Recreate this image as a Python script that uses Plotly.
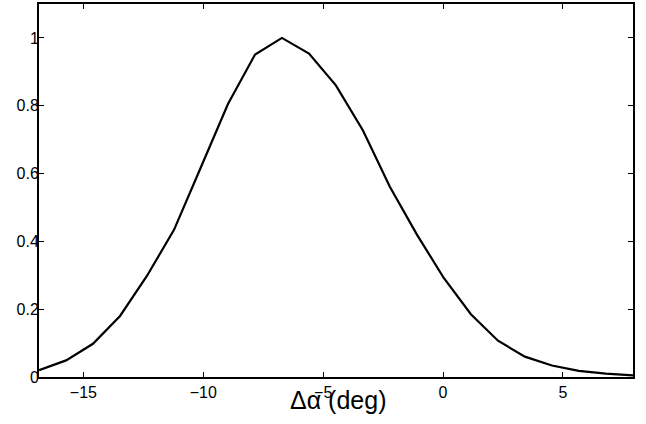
import plotly.graph_objects as go

x_deg = [-16.85, -15.72, -14.60, -13.47, -12.35, -11.22, -10.09, -8.97, -7.84, -6.72,
         -5.59, -4.47, -3.34, -2.22, -1.09, 0.03, 1.16, 2.29, 3.41, 4.54, 5.66, 6.79, 7.92]
y_val = [0.020, 0.049, 0.098, 0.180, 0.298, 0.434, 0.620, 0.805, 0.951, 1.000,
         0.954, 0.860, 0.727, 0.561, 0.420, 0.292, 0.185, 0.107, 0.060, 0.034, 0.018, 0.010, 0.005]

x_ticks = [-15, -10, -5, 0, 5]
x_tick_labels = ["\u221215", "\u221210", "\u22125", "0", "5"]
y_ticks = [0, 0.2, 0.4, 0.6, 0.8, 1]
y_tick_labels = ["0", "0.2", "0.4", "0.6", "0.8", "1"]
x_title = "\u0394\u03b1 (deg)"
x_range = [-16.85, 7.92]

fig = go.Figure()
fig.add_trace(go.Scatter(x=x_deg, y=y_val, mode="lines",
                         line=dict(color="black", width=2.2), showlegend=False))

fig.update_layout(
    width=646, height=424,
    margin=dict(l=39, r=13, t=2, b=47),
    paper_bgcolor="white", plot_bgcolor="white",
    font=dict(family="Liberation Sans, Arial, sans-serif", color="black", size=16),
    xaxis2=dict(overlaying="x", side="top", anchor="y", range=x_range,
                tickvals=x_ticks, showticklabels=False, ticks="inside", ticklen=5,
                tickwidth=1.2, tickcolor="black", showgrid=False, zeroline=False,
                showline=False),
)
fig.add_annotation(text=x_title, xref="paper", yref="paper", x=0.503, y=-0.062,
                   xanchor="center", yanchor="middle", showarrow=False,
                   font=dict(size=25, color="black"))
fig.update_xaxes(selector=dict(anchor="y", side="bottom"))
fig.update_layout(xaxis=dict(range=x_range, tickvals=x_ticks, ticktext=x_tick_labels,
                             ticks="inside", ticklen=5, tickwidth=1.2, tickcolor="black",
                             showline=True, linecolor="black", linewidth=2, mirror="ticks",
                             showgrid=False, zeroline=False))
fig.update_yaxes(range=[0, 1.1], tickvals=y_ticks, ticktext=y_tick_labels,
                 ticks="inside", ticklen=5, tickwidth=1.2, tickcolor="black",
                 showline=True, linecolor="black", linewidth=2, mirror="ticks",
                 showgrid=False, zeroline=False, ticklabelstandoff=-5)

fig.write_html("out.html", config={"displayModeBar": False},
               post_script="document.body.style.margin='0';document.body.style.overflow='hidden';")
